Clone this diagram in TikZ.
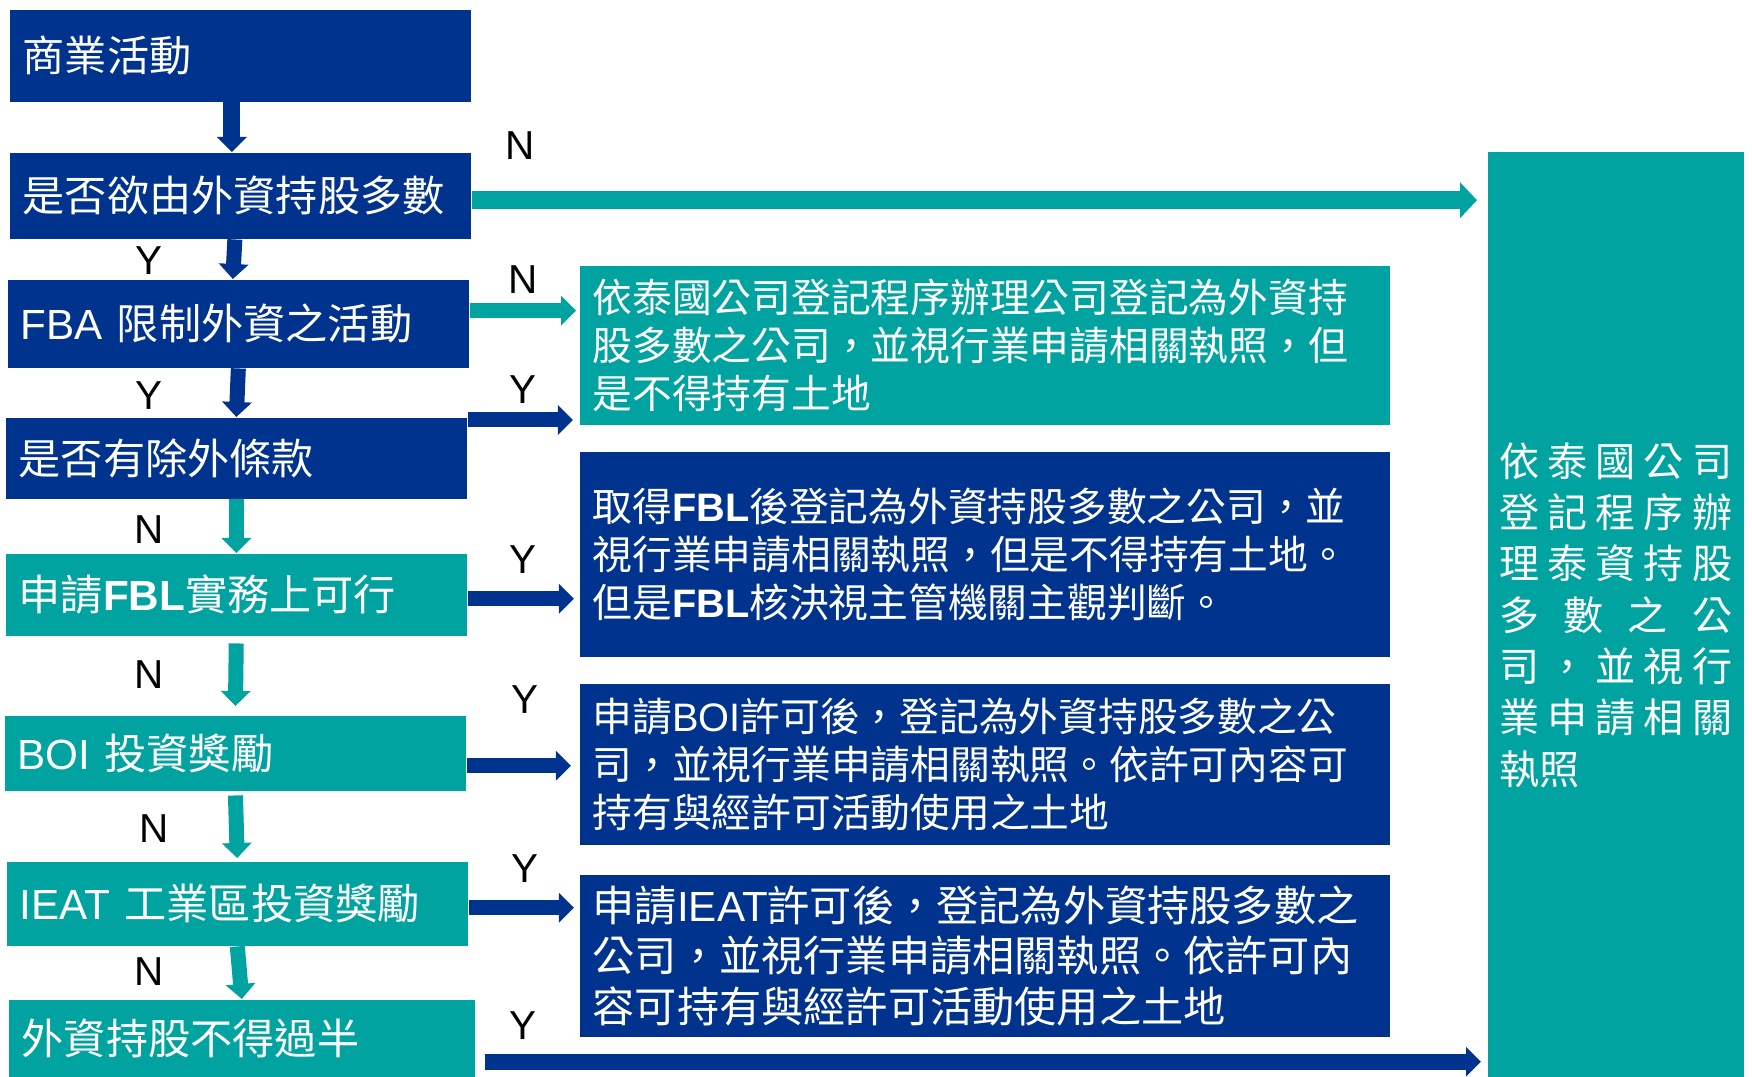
\documentclass[tikz,border=0pt]{standalone}
\usepackage{fontspec}
\setmainfont{Noto Sans CJK TC}
\newfontfamily\lat{Liberation Sans}
\usetikzlibrary{arrows.meta}
\definecolor{boxnavy}{RGB}{0,51,141}
\definecolor{boxteal}{RGB}{0,163,160}

\begin{document}
\begin{tikzpicture}[x=0.01cm, y=-0.01cm,
		box/.style={anchor=north west, inner xsep=0.13cm, inner ysep=0pt, align=left, text=white},
		leftbox/.style={box, text width=4.35cm, font=\fontsize{12}{14}\selectfont},
		infobox/.style={box, text width=7.84cm, font=\fontsize{11.3}{13.7}\selectfont},
		flow/.style={line width=0.15cm, -{Triangle[width=0.29cm, length=0.15cm]}},
		yn/.style={font=\lat\fontsize{11.5}{13}\selectfont, text=black}]
		\useasboundingbox (0,0) rectangle (1752,1077);

		\node[leftbox, fill=boxnavy, minimum height=0.92cm] (act) at (9,9) {商業活動};
		\node[leftbox, fill=boxnavy, minimum height=0.86cm] (major) at (9,152) {是否欲由外資持股多數};
		\node[leftbox, fill=boxnavy, minimum height=0.88cm] (fba) at (7,279) {{\lat FBA} 限制外資之活動};
		\node[leftbox, fill=boxnavy, minimum height=0.81cm] (exempt) at (5,417) {是否有除外條款};
		\node[leftbox, fill=boxteal, minimum height=0.82cm] (fbl) at (5,553) {申請{\lat\bfseries FBL}實務上可行};
		\node[leftbox, fill=boxteal, minimum height=0.75cm] (boi) at (4,715) {{\lat BOI} 投資獎勵};
		\node[leftbox, fill=boxteal, minimum height=0.84cm] (ieat) at (6,861) {{\lat IEAT} 工業區投資獎勵};
		\node[leftbox, fill=boxteal, minimum height=0.78cm, text width=4.40cm] (minor) at (8,999) {外資持股不得過半};

		\node[infobox, fill=boxteal, minimum height=1.59cm] (local) at (579,265) {依泰國公司登記程序辦理公司登記為外資持\\股多數之公司，並視行業申請相關執照，但\\是不得持有土地};
		\node[infobox, fill=boxnavy, minimum height=2.05cm] (fblok) at (579,451) {取得{\lat\bfseries FBL}後登記為外資持股多數之公司，並\\視行業申請相關執照，但是不得持有土地。\\但是{\lat\bfseries FBL}核決視主管機關主觀判斷。};
		\node[infobox, fill=boxnavy, minimum height=1.61cm] (boiok) at (579,683) {申請{\lat BOI}許可後，登記為外資持股多數之公\\司，並視行業申請相關執照。依許可內容可\\持有與經許可活動使用之土地};
		\node[infobox, fill=boxnavy, minimum height=1.62cm, font=\fontsize{12}{14.3}\selectfont] (ieatok) at (579,874) {申請{\lat IEAT}許可後，登記為外資持股多數之\\公司，並視行業申請相關執照。依許可內\\容可持有與經許可活動使用之土地};

		\node[box, fill=boxteal, text width=2.33cm, inner xsep=0.115cm, minimum height=9.26cm, font=\fontsize{11.4}{14.6}\selectfont] (thai) at (1487,151) {\makebox[2.33cm][s]{依\hfill 泰\hfill 國\hfill 公\hfill 司}\\\makebox[2.33cm][s]{登\hfill 記\hfill 程\hfill 序\hfill 辦}\\\makebox[2.33cm][s]{理\hfill 泰\hfill 資\hfill 持\hfill 股}\\\makebox[2.33cm][s]{多\hfill 數\hfill 之\hfill 公}\\\makebox[2.33cm][s]{司\hfill ，\hfill 並\hfill 視\hfill 行}\\\makebox[2.33cm][s]{業\hfill 申\hfill 請\hfill 相\hfill 關}\\執照};

		\draw[flow, boxnavy, line width=0.17cm] ([xshift=-0.085cm]act.south) -- ([xshift=-0.085cm]major.north);
		\draw[flow, boxnavy] ([xshift=-0.055cm]major.south) -- ([xshift=-0.055cm]fba.north);
		\draw[flow, boxnavy] (fba.south) -- (exempt.north);
		\draw[flow, boxteal] (exempt.south) -- (fbl.north);
		\draw[flow, boxteal, shorten <=0.07cm, shorten >=0.09cm] (fbl.south) -- (boi.north);
		\draw[flow, boxteal, shorten <=0.04cm, shorten >=0.03cm] (boi.south) -- (ieat.north);
		\draw[flow, boxteal] (ieat.south) -- (minor.north);

		\draw[flow, boxteal, line width=0.175cm, -{Triangle[width=0.35cm, length=0.17cm]}, shorten >=0.1cm] ([yshift=-0.045cm]major.east) -- ([yshift=-0.045cm]major.east -| thai.west);
		\draw[flow, boxteal, shorten >=0.03cm] ([yshift=0.13cm]fba.east) -- ([yshift=0.13cm]fba.east -| local.west);
		\draw[flow, boxnavy, shorten >=0.06cm] ([yshift=-0.03cm]exempt.north east) -- ([yshift=-0.03cm]exempt.north east -| local.west);
		\draw[flow, boxnavy, shorten >=0.05cm] ([yshift=-0.04cm]fbl.east) -- ([yshift=-0.04cm]fbl.east -| fblok.west);
		\draw[flow, boxnavy, shorten >=0.08cm] ([yshift=-0.125cm]boi.east) -- ([yshift=-0.125cm]boi.east -| boiok.west);
		\draw[flow, boxnavy, shorten >=0.05cm] ([yshift=-0.04cm]ieat.east) -- ([yshift=-0.04cm]ieat.east -| ieatok.west);
		\draw[flow, boxnavy, line width=0.16cm, shorten <=0.09cm, shorten >=0.06cm] ([yshift=-0.23cm]minor.east) -- ([yshift=-0.23cm]minor.east -| thai.west);

		\node[yn] (n1) at (520,146) {N};
		\node[yn] (y1) at (149,261) {Y};
		\node[yn] (n2) at (523,280) {N};
		\node[yn] (y2) at (149,396) {Y};
		\node[yn] (y3) at (523,390) {Y};
		\node[yn] (n3) at (149,530) {N};
		\node[yn] (y4) at (523,560) {Y};
		\node[yn] (n4) at (149,675) {N};
		\node[yn] (y5) at (525,700) {Y};
		\node[yn] (n5) at (154,829) {N};
		\node[yn] (y6) at (525,869) {Y};
		\node[yn] (n6) at (149,972) {N};
		\node[yn] (y7) at (523,1026) {Y};

	\end{tikzpicture}
\end{document}
